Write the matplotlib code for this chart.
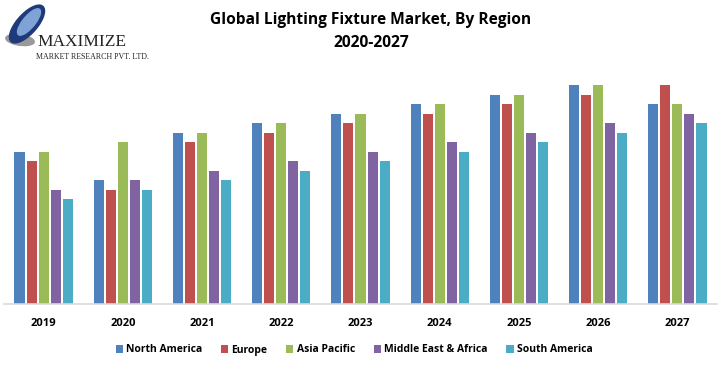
import numpy as np
import matplotlib.pyplot as plt
from matplotlib.patches import Ellipse

years = ["2019", "2020", "2021", "2022", "2023", "2024", "2025", "2026", "2027"]
regions = ["North America", "Europe", "Asia Pacific", "Middle East & Africa", "South America"]
north_america = [16, 13, 18, 19, 20, 21, 22, 23, 21]
europe = [15, 12, 17, 18, 19, 20, 21, 22, 23]
asia_pacific = [16, 17, 18, 19, 20, 21, 22, 23, 21]
mea = [12, 13, 14, 15, 16, 17, 18, 19, 20]
south_america = [11, 12, 13, 14, 15, 16, 17, 18, 19]
series = [north_america, europe, asia_pacific, mea, south_america]
colors = ["#4F81BD", "#C0504D", "#9BBB59", "#8064A2", "#4BACC6"]

fig = plt.figure(figsize=(7.18, 3.65), dpi=100)
ax = fig.add_axes([4/718, 61/365, 713/718, 238/365])

x = np.arange(len(years))
slot = 0.152
for i, vals in enumerate(series):
    ax.bar(x + (i - 2) * slot, vals, width=0.127, color=colors[i], label=regions[i])

ax.set_xlim(-0.5, len(years) - 0.5)
ax.set_ylim(0, 25)
ax.set_yticks([])
ax.set_xticks(x)
ax.set_xticklabels(years, fontsize=8, fontweight="bold", family="Open Sans")
ax.tick_params(axis="x", length=0, pad=10)
for s in ["top", "right", "left"]:
    ax.spines[s].set_visible(False)
ax.spines["bottom"].set_color("#D9D9D9")
ax.spines["bottom"].set_linewidth(1.2)

leg = fig.legend(loc="center", bbox_to_anchor=(354/718, 15/365), ncol=5, frameon=False,
                 prop={"family": "Open Sans", "weight": "bold", "size": 7.5},
                 handlelength=0.7, handleheight=0.7, handletextpad=0.3, columnspacing=1.8)

fig.text(371/718, 1 - 20/365, "Global Lighting Fixture Market, By Region", ha="center", va="center",
         fontsize=11.2, fontweight="bold", family="Open Sans")
fig.text(371/718, 1 - 43/365, "2020-2027", ha="center", va="center",
         fontsize=11.2, fontweight="bold", family="Open Sans")

# logo
fig.patches.append(Ellipse((20/718, 1 - 40/365), 30/718, 10/365, angle=-25,
                           transform=fig.transFigure, color="#9A9A9A"))
fig.patches.append(Ellipse((27/718, 1 - 24/365), 24/718, 40/365, angle=-20,
                           transform=fig.transFigure, color="#1F3A7A"))
fig.patches.append(Ellipse((29/718, 1 - 22/365), 14/718, 28/365, angle=-20,
                           transform=fig.transFigure, color="#7FA3D6"))
fig.text(37/718, 1 - 42/365, "MAXIMIZE", fontsize=12.5, family="Liberation Serif",
         va="center", ha="left", color="#222222")
fig.text(36/718, 1 - 57/365, "MARKET RESEARCH PVT. LTD.", fontsize=5.7, family="Liberation Serif",
         va="center", ha="left", color="#222222")

fig.savefig("out.png", dpi=100)
